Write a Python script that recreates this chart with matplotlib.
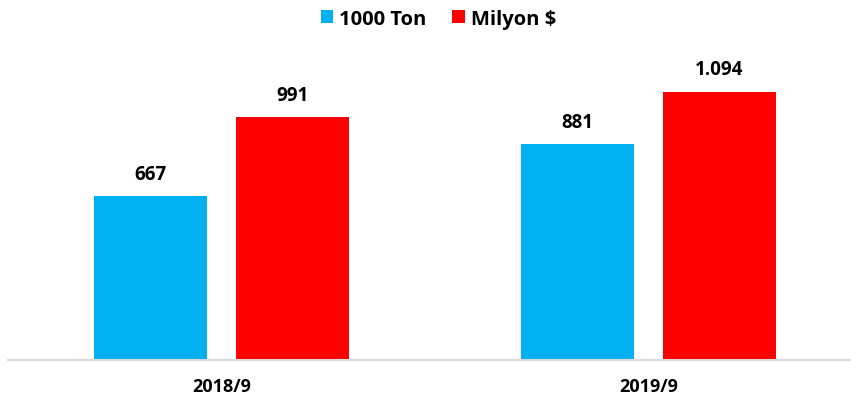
import matplotlib.pyplot as plt
import numpy as np

plt.rcParams['font.family'] = ['Open Sans', 'DejaVu Sans']

kategoriler = ['2018/9', '2019/9']
ton = [667, 881]
milyon = [991, 1094]
ton_etiket = ['667', '881']
milyon_etiket = ['991', '1.094']

fig = plt.figure(figsize=(8.51, 4.10), dpi=100)
ax = fig.add_axes([8/851, 49/410, 843/851, 1 - 49/410 - 66.7/410])

x = np.arange(len(kategoriler))
w = 0.265
off = 0.166
b1 = ax.bar(x - off, ton, w, color='#00B0F0', label='1000 Ton')
b2 = ax.bar(x + off, milyon, w, color='#FF0000', label='Milyon $')

for barlar, etiketler in [(b1, ton_etiket), (b2, milyon_etiket)]:
    for b, t in zip(barlar, etiketler):
        ax.text(b.get_x() + b.get_width()/2, b.get_height() + 50, t,
                ha='center', va='bottom', fontsize=13.5, fontweight='bold', color='#000000')

ax.set_xlim(-0.5, 1.474)
ax.set_ylim(0, 1200)
ax.set_xticks(x)
ax.set_xticklabels(kategoriler, fontsize=13, fontweight='bold')
ax.tick_params(axis='x', length=0, pad=12)
ax.set_yticks([])
for s in ['top', 'right', 'left']:
    ax.spines[s].set_visible(False)
ax.spines['bottom'].set_color('#D9D9D9')
ax.spines['bottom'].set_linewidth(1.5)

fig.legend(loc='upper center', bbox_to_anchor=(0.515, 1.02), ncol=2, frameon=False,
           prop={'weight': 'bold', 'size': 14.5}, handlelength=0.6, handleheight=0.6,
           handletextpad=0.3, columnspacing=1.3)

fig.savefig('out.png', dpi=100)
